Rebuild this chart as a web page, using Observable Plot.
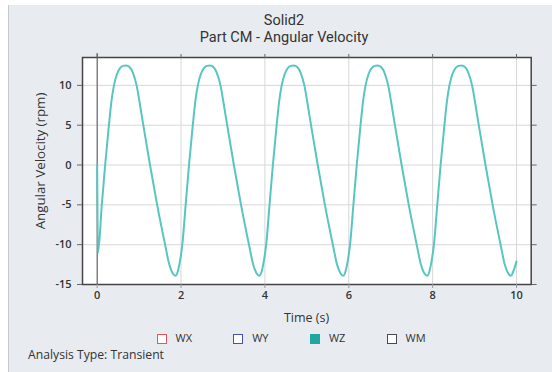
<!DOCTYPE html>
<html><head><meta charset="utf-8">
<script src="https://cdn.jsdelivr.net/npm/d3@7"></script>
<script src="https://cdn.jsdelivr.net/npm/@observablehq/plot@0.6"></script>
<style>
body{margin:0;background:#fff;font-family:"Open Sans",sans-serif;}
#wrap{position:relative;width:552px;height:372px;overflow:hidden;}
#panel{position:absolute;left:8px;top:5px;right:0;bottom:0;background:#e8ecf0;border-left:1px solid #c6cacf;}
.t{position:absolute;white-space:nowrap;color:#333;}
.ttl{font-family:Roboto,sans-serif;font-size:14.5px;line-height:17px;}
#chart{position:absolute;left:0;top:45px;}
.sq{display:inline-block;width:8px;height:8px;box-sizing:content-box;vertical-align:middle;margin-right:9px;}
.item{position:absolute;top:331px;font-size:11px;line-height:14px;color:#333;white-space:nowrap;}
</style></head><body>
<div id="wrap"><div id="panel"></div>
<div class="t ttl" style="left:284px;top:19.5px;transform:translate(-50%,-50%);">Solid2</div>
<div class="t ttl" style="left:284px;top:36.5px;transform:translate(-50%,-50%);">Part CM - Angular Velocity</div>
<div id="chart"></div>
<div class="t" id="ylab" style="font-size:13.3px;left:40px;top:161px;transform:translate(-50%,-50%) rotate(-90deg);">Angular Velocity (rpm)</div>
<div class="t" style="font-size:12.5px;left:306.5px;top:317px;transform:translate(-50%,-50%);">Time (s)</div>
<div id="legend"></div>
<div class="t" style="font-size:12.2px;left:28px;top:354px;transform:translateY(-50%);">Analysis Type: Transient</div>
</div>
<script>
const xTicks = [0, 2, 4, 6, 8, 10];
const yTicks = [-15, -10, -5, 0, 5, 10];
const legendLabels = ["WX", "WY", "WZ", "WM"];
const legendColors = ["#e4545e", "#4b4fb3", "#1ea89f", "#4a4a4a"];
const legendFilled = [false, false, true, false];

const timeS = [
  0, 0.02, 0.11, 0.19, 0.28, 0.34, 0.40, 0.47, 0.55, 0.62, 0.69, 0.77, 0.85, 0.94, 1.02, 1.10, 1.26, 1.43, 1.62, 1.72, 1.80, 1.87,
  1.92, 1.97, 2.03, 2.11, 2.19, 2.28, 2.34, 2.40, 2.47, 2.55, 2.62, 2.69, 2.77, 2.85, 2.94, 3.02, 3.10, 3.26, 3.43, 3.62, 3.72, 3.80, 3.87,
  3.92, 3.97, 4.03, 4.11, 4.19, 4.28, 4.34, 4.40, 4.47, 4.55, 4.62, 4.69, 4.77, 4.85, 4.94, 5.02, 5.10, 5.26, 5.43, 5.62, 5.72, 5.80, 5.87,
  5.92, 5.97, 6.03, 6.11, 6.19, 6.28, 6.34, 6.40, 6.47, 6.55, 6.62, 6.69, 6.77, 6.85, 6.94, 7.02, 7.10, 7.26, 7.43, 7.62, 7.72, 7.80, 7.87,
  7.92, 7.97, 8.03, 8.11, 8.19, 8.28, 8.34, 8.40, 8.47, 8.55, 8.62, 8.69, 8.77, 8.85, 8.94, 9.02, 9.10, 9.26, 9.43, 9.62, 9.72, 9.80, 9.87,
  9.92, 10.0
];
const wzRpm = [
  0, -11.0, -5, 0, 5, 8, 10, 11.4, 12.2, 12.45, 12.5, 12.3, 11.6, 10, 7.6, 5, 0, -5, -10, -12.5, -13.6, -13.9,
  -13.4, -12.2, -10, -5, 0, 5, 8, 10, 11.4, 12.2, 12.45, 12.5, 12.3, 11.6, 10, 7.6, 5, 0, -5, -10, -12.5, -13.6, -13.9,
  -13.4, -12.2, -10, -5, 0, 5, 8, 10, 11.4, 12.2, 12.45, 12.5, 12.3, 11.6, 10, 7.6, 5, 0, -5, -10, -12.5, -13.6, -13.9,
  -13.4, -12.2, -10, -5, 0, 5, 8, 10, 11.4, 12.2, 12.45, 12.5, 12.3, 11.6, 10, 7.6, 5, 0, -5, -10, -12.5, -13.6, -13.9,
  -13.4, -12.2, -10, -5, 0, 5, 8, 10, 11.4, 12.2, 12.45, 12.5, 12.3, 11.6, 10, 7.6, 5, 0, -5, -10, -12.5, -13.6, -13.9,
  -13.4, -12.1
];

const data = timeS.map((t, i) => ({t, v: wzRpm[i]}));
const fmt = d => String(d);

const chart = Plot.plot({
  width: 552, height: 280,
  marginTop: 12, marginBottom: 41, marginLeft: 82, marginRight: 21.3,
  style: {background: "transparent", fontFamily: "Open Sans", fontSize: "11px", color: "#333", overflow: "visible"},
  x: {domain: [-0.35, 10.35], label: null},
  y: {domain: [-15, 13.5], label: null},
  marks: [
    Plot.frame({fill: "#fff"}),
    Plot.gridX(xTicks, {stroke: "#d7d7d7", strokeOpacity: 1}),
    Plot.gridY(yTicks, {stroke: "#d7d7d7", strokeOpacity: 1}),
    Plot.ruleX([0], {y1: -15, y2: 14, stroke: "#555"}),
    Plot.line(data, {x: "t", y: "v", stroke: "#58c6c0", strokeWidth: 2, curve: "monotone-x"}),
    Plot.frame({stroke: "#444", strokeWidth: 1.5}),
    Plot.axisY(yTicks, {anchor: "left", tickSize: 5, tickPadding: 6, stroke: "#666", fill: "#333", fontWeight: 600, tickFormat: fmt}),
    Plot.axisY(yTicks, {anchor: "right", tickSize: 5, stroke: "#666", tickFormat: () => ""}),
    Plot.axisX(xTicks, {anchor: "bottom", tickSize: 4, tickPadding: 3, stroke: "#999", fill: "#333", fontWeight: 600, tickFormat: fmt}),
    Plot.axisX(xTicks, {anchor: "top", tickSize: 4, stroke: "#666", tickFormat: () => ""})
  ]
});
document.getElementById("chart").appendChild(chart);

const lg = document.getElementById("legend");
legendLabels.forEach((name, i) => {
  const it = document.createElement("div");
  it.className = "item";
  it.style.left = (156.5 + i * 76.7) + "px";
  const sq = document.createElement("span");
  sq.className = "sq";
  sq.style.border = "1.5px solid " + legendColors[i];
  sq.style.background = legendFilled[i] ? legendColors[i] : "#fff";
  it.appendChild(sq);
  it.appendChild(document.createTextNode(name));
  lg.appendChild(it);
});
</script>
</body></html>
